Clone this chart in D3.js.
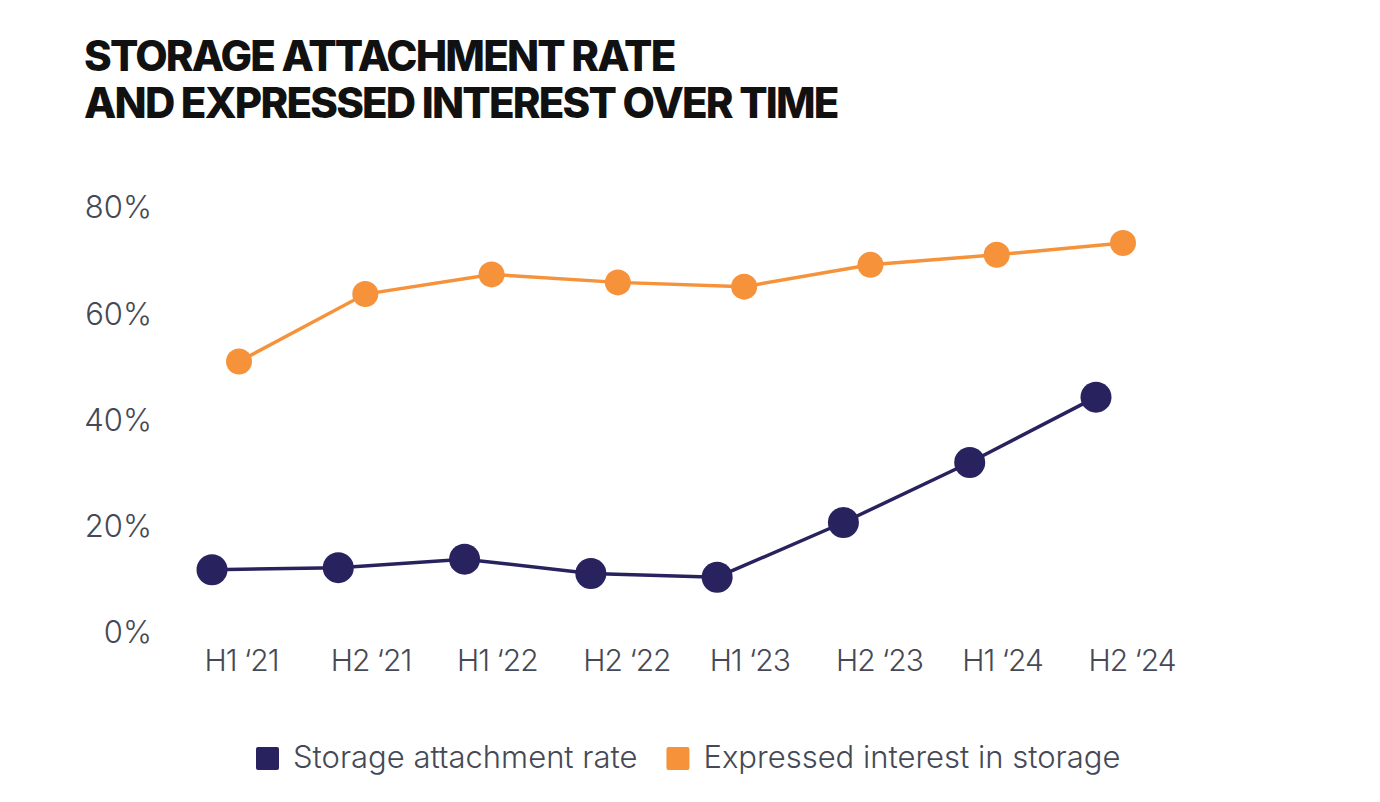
<!DOCTYPE html>
<html>
<head>
<meta charset="utf-8">
<script src="https://cdn.jsdelivr.net/npm/d3@7"></script>
<style>
  body { margin: 0; background: #fff; }
  svg { display: block; font-family: Inter, "Noto Sans", sans-serif; }
</style>
</head>
<body>
<svg id="chart" width="1380" height="802"></svg>
<script>
// values
var periods = ["H1 \u201821", "H2 \u201821", "H1 \u201822", "H2 \u201822", "H1 \u201823", "H2 \u201823", "H1 \u201824", "H2 \u201824"];
var attachRate = [11.9, 12.3, 13.9, 11.2, 10.5, 20.8, 32.1, 44.4];
var interest = [51.1, 63.8, 67.5, 66.0, 65.2, 69.3, 71.2, 73.4];
var yTicks = [0, 20, 40, 60, 80];
var titleLines = ["STORAGE ATTACHMENT RATE", "AND EXPRESSED INTEREST OVER TIME"];
var seriesNames = ["Storage attachment rate", "Expressed interest in storage"];

var navy = "#28235f", orange = "#f5923a", grey = "#454955";

var svg = d3.select("#chart");

// title
svg.append("g").selectAll("text")
    .data(titleLines)
  .enter().append("text")
    .attr("x", 84)
    .attr("y", function(d, i) { return 71 + i * 47; })
    .attr("fill", "#111")
    .attr("font-size", 42)
    .attr("font-weight", 800)
    .attr("letter-spacing", "-1.8px")
    .text(function(d) { return d; });

var x = d3.scalePoint()
    .domain(periods)
    .range([212, 1096]);
var shift = 27;   // orange markers sit a little right of the navy ones

var y = d3.scaleLinear()
    .domain([0, 80])
    .range([633, 208]);

// y axis
var yAxis = svg.append("g")
    .attr("transform", "translate(160,0)")
    .call(d3.axisLeft(y).tickValues(yTicks).tickSize(0).tickPadding(8)
        .tickFormat(function(d) { return d + "%"; }));
yAxis.select(".domain").remove();
yAxis.selectAll("text")
    .attr("fill", grey)
    .attr("font-size", 31)
    .attr("font-weight", 300)
    .attr("font-family", "Inter, sans-serif");

// x axis (labels start just left of each navy point)
var xAxis = svg.append("g")
    .attr("transform", "translate(0,633)")
    .call(d3.axisBottom(x).tickSize(0).tickPadding(17));
xAxis.select(".domain").remove();
xAxis.selectAll("text")
    .attr("text-anchor", "start")
    .attr("x", -8)
    .attr("fill", grey)
    .attr("font-size", 30)
    .attr("font-weight", 300)
    .attr("letter-spacing", "-1px")
    .attr("font-family", "Inter, sans-serif");

function drawSeries(values, color, dx, r) {
    var pts = values.map(function(v, i) { return [x(periods[i]) + dx, y(v)]; });
    svg.append("path")
        .datum(pts)
        .attr("fill", "none")
        .attr("stroke", color)
        .attr("stroke-width", 3.5)
        .attr("d", d3.line());
    svg.append("g").selectAll("circle")
        .data(pts)
      .enter().append("circle")
        .attr("cx", function(d) { return d[0]; })
        .attr("cy", function(d) { return d[1]; })
        .attr("r", r)
        .attr("fill", color);
}

drawSeries(interest, orange, shift, 13);
drawSeries(attachRate, navy, 0, 15.5);

// legend
var legend = svg.append("g").attr("transform", "translate(256,0)");
var lx = 0;
[navy, orange].forEach(function(c, i) {
    legend.append("rect")
        .attr("x", lx).attr("y", 747)
        .attr("width", 23).attr("height", 23)
        .attr("rx", 2)
        .attr("fill", c);
    var t = legend.append("text")
        .attr("x", lx + 37).attr("y", 768)
        .attr("fill", grey)
        .attr("font-size", 31)
        .attr("font-weight", 300)
        .text(seriesNames[i]);
    lx += 37 + t.node().getComputedTextLength() + 29;
});
</script>
</body>
</html>
